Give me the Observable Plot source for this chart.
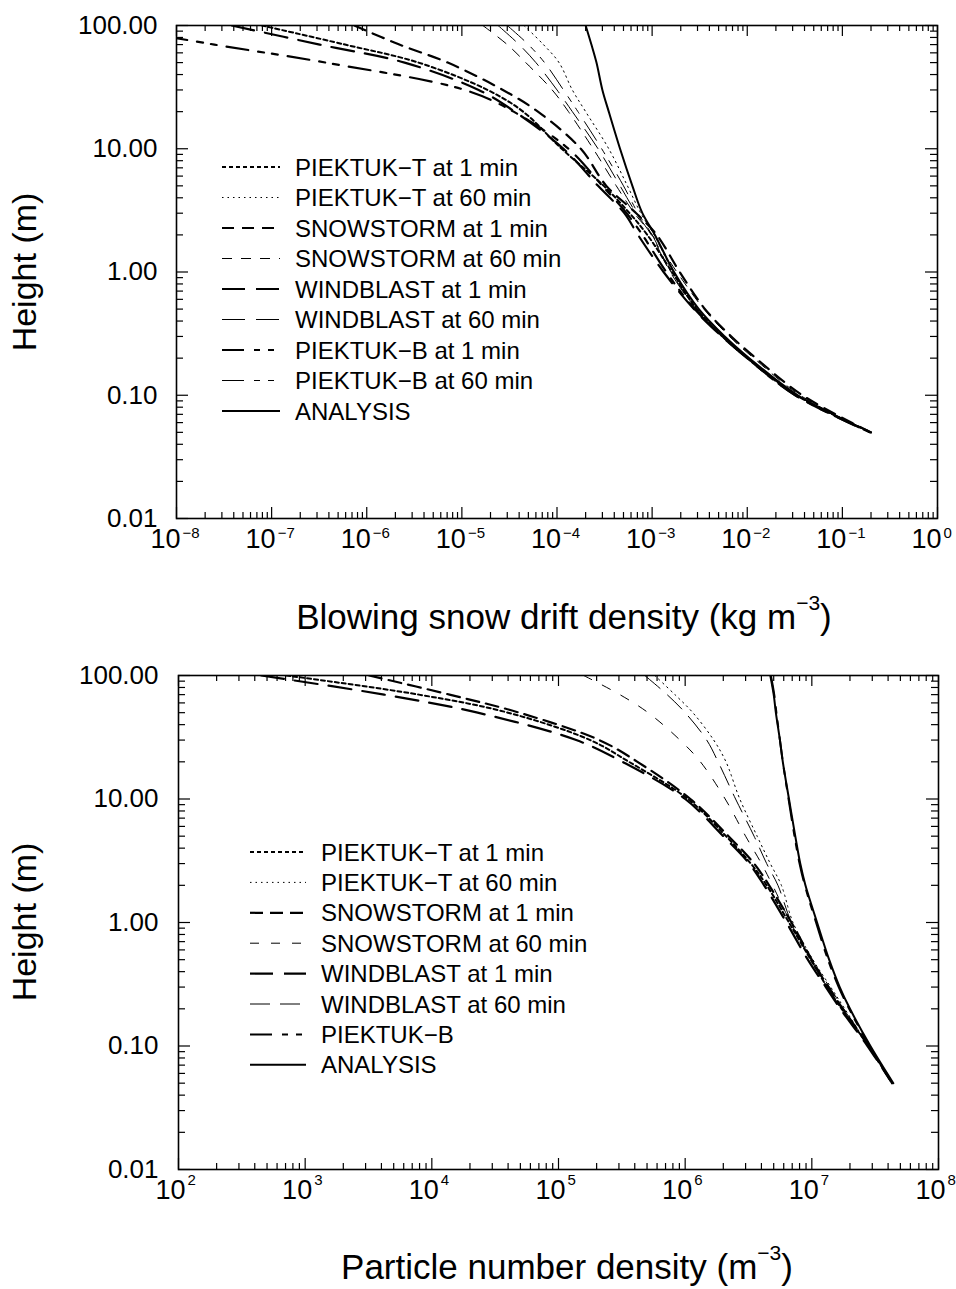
<!DOCTYPE html>
<html><head><meta charset="utf-8">
<script src="https://cdn.jsdelivr.net/npm/d3@7"></script>
<script src="https://cdn.jsdelivr.net/npm/@observablehq/plot@0.6"></script>
<style>
html,body{margin:0;padding:0;background:#fff;overflow:hidden;}
#wrap{position:relative;width:956px;height:1289px;background:#fff;}
</style></head><body><div id="wrap"></div>
<script>
// ---------- data ----------
const heightsM = [100, 70, 50, 30, 20, 10, 5, 3, 2, 1, 0.5, 0.3, 0.2, 0.1, 0.05];
const heightTicks = [0.01, 0.1, 1, 10, 100];
const driftExponents = [-8, -7, -6, -5, -4, -3, -2, -1, 0];
const numberExponents = [2, 3, 4, 5, 6, 7, 8];

// Blowing snow drift density (kg m^-3) at heightsM
const driftPiektukT1   = [7.9e-8, 5.9e-7, 3.5e-6, 1.86e-5, 4.4e-5, 1.12e-4, 3.1e-4, 5.8e-4, 8.9e-4, 1.62e-3, 2.95e-3, 5.5e-3, 1.0e-2, 3.3e-2, 0.20];
const driftPiektukT60  = [4.5e-5, 7.2e-5, 1.05e-4, 1.45e-4, 2.0e-4, 3.5e-4, 5.5e-4, 7.6e-4, 1.05e-3, 1.66e-3, 3.0e-3, 5.6e-3, 1.02e-2, 3.35e-2, 0.20];
const driftSnowstorm1  = [7.4e-7, 2.2e-6, 7.1e-6, 2.7e-5, 6.3e-5, 1.78e-4, 3.3e-4, 6.8e-4, 1.12e-3, 1.95e-3, 3.6e-3, 6.8e-3, 1.23e-2, 3.8e-2, 0.20];
const driftSnowstorm60 = [1.66e-5, 3.0e-5, 4.7e-5, 8.9e-5, 1.32e-4, 2.4e-4, 4.2e-4, 6.5e-4, 1.0e-3, 1.82e-3, 3.5e-3, 6.5e-3, 1.17e-2, 3.6e-2, 0.20];
const driftWindblast1  = [3.8e-8, 3.2e-7, 2.5e-6, 1.5e-5, 3.6e-5, 1.17e-4, 2.7e-4, 5.1e-4, 7.1e-4, 1.32e-3, 2.75e-3, 5.4e-3, 1.0e-2, 3.2e-2, 0.195];
const driftWindblast60 = [2.4e-5, 4.0e-5, 6.0e-5, 1.0e-4, 1.45e-4, 2.7e-4, 4.6e-4, 6.8e-4, 9.8e-4, 1.55e-3, 2.9e-3, 5.5e-3, 1.0e-2, 3.3e-2, 0.20];
const driftPiektukB1   = [1.74e-9, 2.5e-8, 3.7e-7, 1.07e-5, 3.5e-5, 1.32e-4, 3.0e-4, 5.4e-4, 7.9e-4, 1.41e-3, 2.8e-3, 5.5e-3, 1.0e-2, 3.2e-2, 0.195];
const driftPiektukB60  = [3.0e-5, 5.0e-5, 7.4e-5, 1.17e-4, 1.66e-4, 2.95e-4, 5.0e-4, 7.1e-4, 1.0e-3, 1.58e-3, 2.95e-3, 5.6e-3, 1.02e-2, 3.3e-2, 0.20];
const driftAnalysis    = [2.0e-4, 2.3e-4, 2.6e-4, 3.0e-4, 3.5e-4, 4.6e-4, 6.2e-4, 7.9e-4, 1.07e-3, 1.7e-3, 3.1e-3, 5.8e-3, 1.05e-2, 3.4e-2, 0.20];

// Particle number density (m^-3) at heightsM
const numberPiektukT1   = [7.1e2, 7.9e3, 4.0e4, 1.78e5, 3.6e5, 1.05e6, 2.1e6, 3.3e6, 4.4e6, 6.6e6, 9.8e6, 1.32e7, 1.72e7, 2.8e7, 4.3e7];
const numberPiektukT60  = [5.75e5, 8.3e5, 1.15e6, 1.68e6, 2.1e6, 2.7e6, 3.7e6, 4.7e6, 5.75e6, 7.1e6, 1.02e7, 1.41e7, 1.82e7, 2.8e7, 4.3e7];
const numberSnowstorm1  = [3.2e3, 1.38e4, 4.9e4, 2.1e5, 4.2e5, 1.1e6, 2.2e6, 3.5e6, 4.6e6, 6.9e6, 1.0e7, 1.35e7, 1.76e7, 2.8e7, 4.3e7];
const numberSnowstorm60 = [1.58e5, 3.05e5, 5.1e5, 9.1e5, 1.32e6, 2.07e6, 3.0e6, 4.0e6, 4.9e6, 6.8e6, 9.8e6, 1.32e7, 1.72e7, 2.8e7, 4.3e7];
const numberWindblast1  = [4.5e2, 4.2e3, 2.3e4, 1.38e5, 3.2e5, 1.0e6, 2.0e6, 3.2e6, 4.2e6, 6.3e6, 9.3e6, 1.29e7, 1.68e7, 2.75e7, 4.3e7];
const numberWindblast60 = [4.8e5, 7.2e5, 1.0e6, 1.48e6, 1.82e6, 2.5e6, 3.5e6, 4.4e6, 5.4e6, 6.9e6, 1.0e7, 1.38e7, 1.78e7, 2.8e7, 4.3e7];
const numberPiektukB    = [4.75e6, 5.05e6, 5.25e6, 5.6e6, 5.9e6, 6.55e6, 7.3e6, 8.0e6, 8.8e6, 1.08e7, 1.34e7, 1.63e7, 1.97e7, 2.85e7, 4.35e7];
const numberAnalysis    = [4.7e6, 5.0e6, 5.2e6, 5.6e6, 5.9e6, 6.6e6, 7.4e6, 8.1e6, 8.9e6, 1.1e7, 1.37e7, 1.66e7, 2.0e7, 2.9e7, 4.4e7];

// ---------- styles ----------
const FONT = "'Liberation Sans', Arial, Helvetica, sans-serif";
const DASH_B = "22,10,6,8,6,10";

const driftSeries = [
  {label: "PIEKTUK\u2212T at 1 min",  values: driftPiektukT1,   w: 2,   dash: "4,3"},
  {label: "PIEKTUK\u2212T at 60 min", values: driftPiektukT60,  w: 1,   dash: "1.5,4"},
  {label: "SNOWSTORM at 1 min",       values: driftSnowstorm1,  w: 2.2, dash: "12,8"},
  {label: "SNOWSTORM at 60 min",      values: driftSnowstorm60, w: 1,   dash: "10,9"},
  {label: "WINDBLAST at 1 min",       values: driftWindblast1,  w: 2.2, dash: "23,11"},
  {label: "WINDBLAST at 60 min",      values: driftWindblast60, w: 1,   dash: "23,11"},
  {label: "PIEKTUK\u2212B at 1 min",  values: driftPiektukB1,   w: 2.2, dash: DASH_B},
  {label: "PIEKTUK\u2212B at 60 min", values: driftPiektukB60,  w: 1,   dash: DASH_B},
  {label: "ANALYSIS",                 values: driftAnalysis,    w: 2,   dash: null}
];
const numberSeries = [
  {label: "PIEKTUK\u2212T at 1 min",  values: numberPiektukT1,   w: 2,   dash: "4,3"},
  {label: "PIEKTUK\u2212T at 60 min", values: numberPiektukT60,  w: 1,   dash: "1.5,4"},
  {label: "SNOWSTORM at 1 min",       values: numberSnowstorm1,  w: 2.2, dash: "13,7"},
  {label: "SNOWSTORM at 60 min",      values: numberSnowstorm60, w: 1,   dash: "9,12"},
  {label: "WINDBLAST at 1 min",       values: numberWindblast1,  w: 2.2, dash: "23,11"},
  {label: "WINDBLAST at 60 min",      values: numberWindblast60, w: 1,   dash: "20,10"},
  {label: "PIEKTUK\u2212B",           values: numberPiektukB,    w: 2,   dash: DASH_B},
  {label: "ANALYSIS",                 values: numberAnalysis,    w: 2,   dash: null}
];

function minorTicks(majors) {
  const out = [];
  for (let i = 0; i < majors.length - 1; i++) for (let k = 2; k <= 9; k++) out.push(majors[i] * k);
  return out;
}
function expLabel(e) { return e < 0 ? "\u2212" + (-e) : String(e); }

function panel(o) {
  const fw = 956 - o.ml - o.mr, fh = o.height - o.mt - o.mb;
  const xMajor = o.exps.map(e => 10 ** e);
  const tk = {stroke: "black", strokeWidth: 1.2};
  const marks = [];
  for (const s of o.series) {
    marks.push(Plot.line(heightsM.map((h, i) => ({x: s.values[i], h})), {
      x: "x", y: "h", stroke: "black", strokeWidth: s.w,
      strokeDasharray: s.dash || undefined, curve: "catmull-rom", clip: true
    }));
  }
  marks.push(
    Plot.tickY(heightTicks, {y: d => d, insetRight: fw - 12, ...tk}),
    Plot.tickY(heightTicks, {y: d => d, insetLeft: fw - 12, ...tk}),
    Plot.tickY(minorTicks(heightTicks), {y: d => d, insetRight: fw - 7, ...tk}),
    Plot.tickY(minorTicks(heightTicks), {y: d => d, insetLeft: fw - 7, ...tk}),
    Plot.tickX(xMajor, {x: d => d, insetTop: fh - 11, ...tk}),
    Plot.tickX(xMajor, {x: d => d, insetBottom: fh - 11, ...tk}),
    Plot.tickX(minorTicks(xMajor), {x: d => d, insetTop: fh - 6, ...tk}),
    Plot.tickX(minorTicks(xMajor), {x: d => d, insetBottom: fh - 6, ...tk}),
    Plot.frame({stroke: "black", strokeWidth: 1.6}),
    Plot.text(heightTicks, {y: d => d, text: d => d.toFixed(2), frameAnchor: "left", textAnchor: "end", dx: o.yLabelDx, fontSize: 26, fill: "black"}),
    Plot.text(xMajor, {x: d => d, text: () => "10", frameAnchor: "bottom", textAnchor: "end", dx: o.tenDx, dy: o.tenDy, fontSize: 27, fill: "black"}),
    Plot.text(o.exps, {x: e => 10 ** e, text: expLabel, frameAnchor: "bottom", textAnchor: "start", dx: o.expDx, dy: o.expDy, fontSize: 15, fill: "black"})
  );
  const svg = Plot.plot({
    width: 956, height: o.height,
    marginTop: o.mt, marginBottom: o.mb, marginLeft: o.ml, marginRight: o.mr,
    x: {type: "log", domain: o.xDomain, axis: null},
    y: {type: "log", domain: [0.01, 100], axis: null},
    style: {fontFamily: FONT, background: "white", color: "black", overflow: "visible"},
    marks
  });
  svg.style.position = "absolute";
  svg.style.left = "0px";
  svg.style.top = o.top + "px";
  const s = d3.select(svg);
  // y title
  s.append("text").attr("transform", `translate(36,${o.yTitleY}) rotate(-90)`)
    .attr("text-anchor", "middle").attr("font-size", 34).attr("fill", "black").text("Height (m)");
  // x title with superscript
  const t = s.append("text").attr("x", o.xTitleX).attr("y", o.xTitleY)
    .attr("text-anchor", "middle").attr("font-size", 35).attr("fill", "black");
  t.append("tspan").text(o.xTitle);
  t.append("tspan").attr("dy", -19).attr("font-size", 21).text("\u22123");
  t.append("tspan").attr("dy", 19).text(")");
  // legend
  const g = s.append("g").attr("text-anchor", "start");
  o.series.forEach((d, i) => {
    const y = o.legY + i * o.legStep;
    g.append("line").attr("x1", o.legX1).attr("x2", o.legX2).attr("y1", y).attr("y2", y)
      .attr("stroke", "black").attr("stroke-width", d.w)
      .attr("stroke-dasharray", d.dash || null);
    g.append("text").attr("x", o.legTx).attr("y", y).attr("dy", "0.36em")
      .attr("text-anchor", "start")
      .attr("font-size", 24).attr("fill", "black").text(d.label);
  });
  return svg;
}

const wrap = document.getElementById("wrap");
wrap.appendChild(panel({
  top: 0, height: 655, mt: 25, mb: 137, ml: 176, mr: 19,
  xDomain: [1e-8, 1], exps: driftExponents, series: driftSeries,
  yLabelDx: -19, tenDx: 4, tenDy: 29, expDx: 6, expDy: 19,
  yTitleY: 272, xTitleX: 564, xTitleY: 629,
  xTitle: "Blowing snow drift density (kg m",
  legX1: 222, legX2: 280, legTx: 295, legY: 167, legStep: 30.5
}));
wrap.appendChild(panel({
  top: 655, height: 634, mt: 20, mb: 120, ml: 178, mr: 18,
  xDomain: [1e2, 1e8], exps: numberExponents, series: numberSeries,
  yLabelDx: -20, tenDx: 7, tenDy: 29, expDx: 9, expDy: 15,
  yTitleY: 267, xTitleX: 567, xTitleY: 624,
  xTitle: "Particle number density (m",
  legX1: 250, legX2: 306, legTx: 321, legY: 197, legStep: 30.4
}));
</script></body></html>
